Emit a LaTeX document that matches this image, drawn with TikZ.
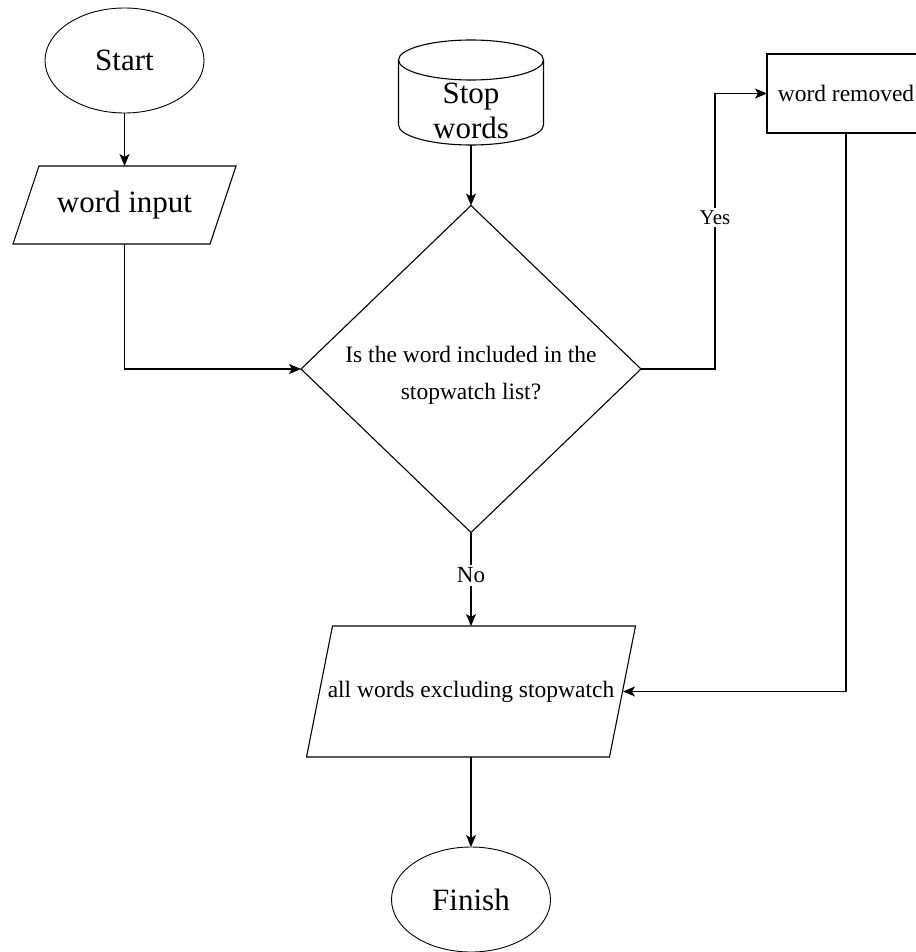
\documentclass[tikz,border=0pt]{standalone}
\usepackage{fontspec}
\setmainfont{Liberation Serif}
\usetikzlibrary{arrows.meta,shapes.geometric,calc}
\begin{document}
\begin{tikzpicture}[x=1pt,y=-1pt,
  line width=1.1pt,
  every node/.style={inner sep=0pt, outer sep=0pt},
  big/.style={font=\fontsize{31}{35}\selectfont},
  small/.style={font=\fontsize{23.5}{37}\selectfont},
  term/.style={draw, ellipse, minimum width=159pt, minimum height=105pt, big, line width=0.9pt},
  flow/.style={-{Stealth[length=12pt,width=10pt,inset=3pt]}},
  lbl/.style={fill=white, inner sep=3pt}
]
\useasboundingbox (0,0) rectangle (915,952);

% terminals
\node[term] (start) at (124.5,60.5) {Start};
\node[term] (fin) at (471,899.5) {Finish};

% word input (parallelogram)
\node[big, minimum width=223pt, minimum height=78pt] (input) at (124.5,205) {word input};
\draw ($(input.north west)+(26,0)$) -- (input.north east) -- ($(input.south east)+(-26,0)$) -- (input.south west) -- cycle;

% stop words (cylinder)
\node[minimum width=145pt, minimum height=105pt] (stop) at (471,92.5) {};
\draw (stop.north) ++(0,20) ellipse [x radius=72.5, y radius=20];
\draw ($(stop.north west)+(0,20)$) -- ($(stop.south west)+(0,-20)$)
      arc [start angle=180, end angle=0, x radius=72.5, y radius=20]
      -- ($(stop.north east)+(0,20)$);
\node[big, align=center] (stoptxt) at (471,111) {Stop\\words};

% decision
\node[draw, diamond, minimum width=340pt, minimum height=327pt] (dec) at (471,369) {};
\node[small, align=center] (dectxt) at (471,375)
  {Is the word included in the\\stopwatch list?};

% word removed
\node[draw, minimum width=158pt, minimum height=79pt, small] (rem) at (846,93.5) {word removed};

% output (parallelogram)
\node[small, minimum width=329pt, minimum height=131pt] (out) at (471,691.5) {all words excluding stopwatch};
\draw ($(out.north west)+(26,0)$) -- (out.north east) -- ($(out.south east)+(-26,0)$) -- (out.south west) -- cycle;

% connectors
\draw[flow] (start) -- (input);
\draw[flow] (stop.south) -- (dec.north);
\draw[flow] (input.south) |- (dec.west);
\draw[flow] (dec.east) -- ++(74,0) |- (rem.west)
  node[lbl, pos=0.275, font=\fontsize{21}{24}\selectfont] {Yes};
\draw[flow] (dec.south) -- (out.north)
  node[lbl, pos=0.46, font=\fontsize{23}{26}\selectfont] {No};
\draw[flow] (rem.south) |- ($(out.east)+(-12.5,0)$);
\draw[flow] (out.south) -- (fin.north);
\end{tikzpicture}
\end{document}
